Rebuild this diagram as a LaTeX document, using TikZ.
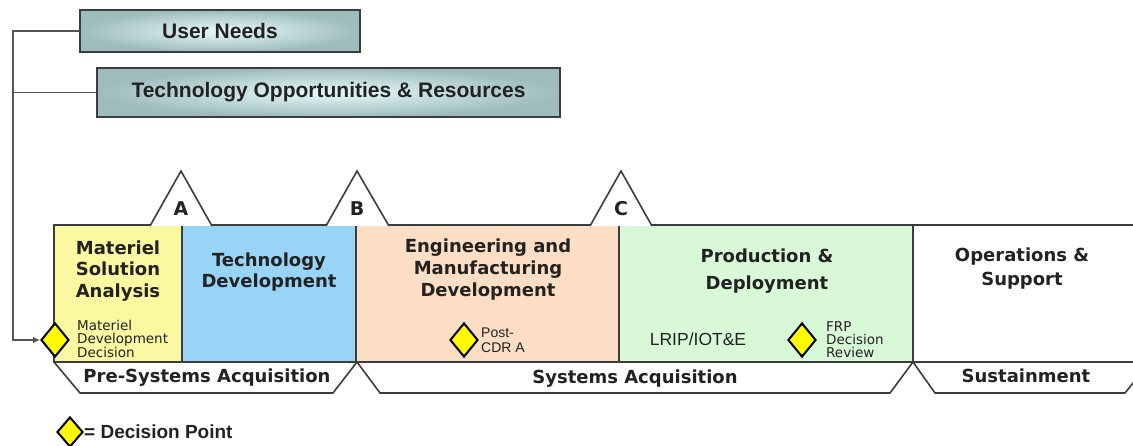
\documentclass[tikz,border=0pt]{standalone}
\usepackage{fontspec}
\setmainfont{DejaVu Sans}
\newfontfamily\arialf{Liberation Sans}
\usetikzlibrary{shapes.geometric,arrows.meta}
\definecolor{msacol}{RGB}{250,248,160}
\definecolor{tdcol}{RGB}{152,212,246}
\definecolor{emdcol}{RGB}{252,222,196}
\definecolor{pdcol}{RGB}{216,248,216}
\definecolor{boxin}{RGB}{232,250,250}
\definecolor{boxout}{RGB}{158,188,188}
\definecolor{inkc}{RGB}{34,34,34}
\definecolor{linec}{RGB}{60,60,60}
\definecolor{connc}{RGB}{85,85,85}
\definecolor{dyel}{RGB}{255,250,0}
\begin{document}
\begin{tikzpicture}[x=1pt,y=-1pt,
  topbox/.style={draw=linec, line width=2pt, inner color=boxin, outer color=boxout,
    font=\arialf\bfseries\fontsize{21}{24}\selectfont, text=inkc, inner sep=0pt},
  conn/.style={draw=connc, line width=1.6pt},
  stageline/.style={draw=linec, line width=1.6pt},
  stagetitle/.style={align=center, text=inkc, inner sep=0pt},
  decpt/.style={diamond, draw=black, line width=2pt, fill=dyel, inner sep=0pt,
    minimum width=28pt, minimum height=34pt},
  smalllab/.style={align=left, anchor=west, inner sep=0pt, text=inkc,
    font=\fontsize{13.5}{13}\selectfont},
  tri/.style={draw=linec, line width=1.6pt, fill=white, line join=miter},
  trilet/.style={font=\bfseries\fontsize{19}{22}\selectfont, text=inkc, inner sep=0pt},
  strip/.style={draw=linec, line width=1.6pt, fill=white},
  striplab/.style={font=\bfseries\fontsize{18}{21}\selectfont, text=inkc, inner sep=0pt}
]
\useasboundingbox (0,0) rectangle (1133,446);
\clip (0,0) rectangle (1133,446);

% top input boxes
\node[topbox, minimum width=280pt, minimum height=42pt] (un) at (220,31) {User Needs};
\node[topbox, minimum width=463pt, minimum height=49pt] (tor) at (328.5,92.5) {Technology Opportunities \& Resources};

% stage fills
\fill[msacol] (54,225) rectangle (182,362);
\fill[tdcol] (182,225) rectangle (356,362);
\fill[emdcol] (356,225) rectangle (619,362);
\fill[pdcol] (619,225) rectangle (913,362);
\fill[white] (913,225) rectangle (1140,362);

% bottom strips
\draw[strip] (54,362) -- (80,393) -- (333,393) -- (357,362);
\draw[strip] (357,362) -- (380,393) -- (890,393) -- (913,362);
\draw[strip] (913,362) -- (935,393) -- (1125,393) -- (1150,362);

% stage outline
\draw[stageline] (1140,225) -- (54,225) -- (54,362) -- (1140,362);
\foreach \xx in {182,356,619,913} \draw[stageline] (\xx,225) -- (\xx,362);

% milestone triangles
\draw[tri] (150,226) -- (181,171) -- (212,226);
\draw[tri] (326,226) -- (357,171) -- (389,226);
\draw[tri] (590,226) -- (621,171) -- (652,226);
\node[trilet] (ma) at (181,209) {A};
\node[trilet] (mb) at (357,209) {B};
\node[trilet] (mc) at (621,209) {C};

% stage titles
\node[stagetitle, font=\bfseries\fontsize{18}{21.5}\selectfont] (msa) at (118,271) {Materiel\\Solution\\Analysis};
\node[stagetitle, font=\bfseries\fontsize{18}{21.5}\selectfont] (td) at (269,272) {Technology\\Development};
\node[stagetitle, font=\bfseries\fontsize{18}{22}\selectfont] (emd) at (488,270) {Engineering and\\Manufacturing\\Development};
\node[stagetitle, font=\bfseries\fontsize{18}{27}\selectfont] (pd) at (767,271) {Production \&\\Deployment};
\node[stagetitle, font=\bfseries\fontsize{18}{24}\selectfont] (os) at (1022,269) {Operations \&\\Support};

% decision points
\node[decpt] (mdd) at (55,340) {};
\node[decpt] (pcdr) at (464,340) {};
\node[decpt] (frp) at (802,340) {};
\node[smalllab] (mddt) at (77,339) {Materiel\\Development\\Decision};
\node[smalllab, font=\arialf\fontsize{14}{15}\selectfont] (pcdrt) at (481,340) {Post-\\CDR A};
\node[smalllab] (frpt) at (826,340) {FRP\\Decision\\Review};
\node[inner sep=0pt, text=inkc, font=\arialf\fontsize{17.5}{20}\selectfont] (lrip) at (698,339) {LRIP/IOT\&E};

% strip labels
\node[striplab] (psa) at (207,378) {Pre-Systems Acquisition};
\node[striplab] (sa) at (635,379) {Systems Acquisition};
\node[striplab] (sus) at (1026,376) {Sustainment};

% connectors
\coordinate (corner) at (13,31);
\draw[conn, -{Latex[length=7pt,width=7pt]}] (un.west) -- (corner) |- (mdd.west);
\draw[conn] (tor.west) -- (corner |- tor.west);

% legend
\node[decpt, minimum width=26pt, minimum height=30pt] (leg) at (70,432) {};
\node[anchor=west, inner sep=0pt, text=inkc, font=\arialf\bfseries\fontsize{19}{20}\selectfont] (legt) at (84,432) {= Decision Point};
\end{tikzpicture}
\end{document}
